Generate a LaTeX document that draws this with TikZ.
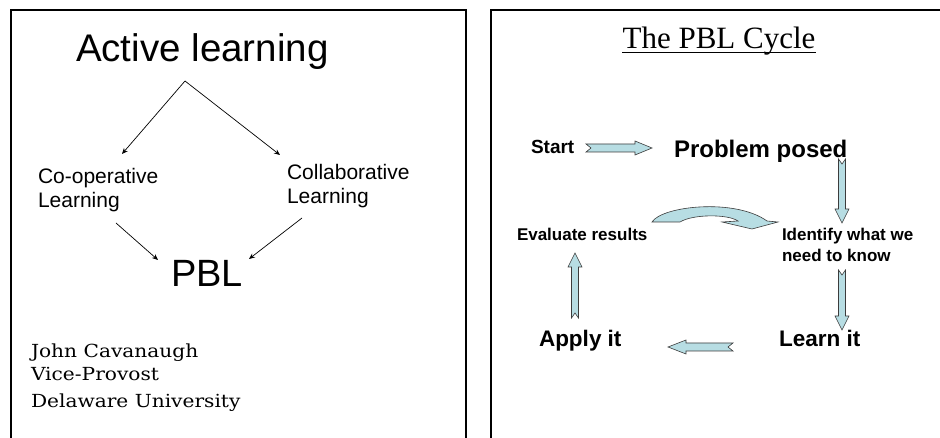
\documentclass[tikz,border=0pt]{standalone}
\usepackage{fontspec}
\setmainfont{Liberation Sans}
\newfontfamily\timesf{Liberation Serif}
\newfontfamily\djserif{DejaVu Serif}
\usetikzlibrary{arrows.meta}
\definecolor{arrfill}{RGB}{183,221,227}
\definecolor{arredge}{RGB}{60,60,60}
\tikzset{
  panel/.style={draw=black,line width=2pt},
  lbl/.style={anchor=base west,inner sep=0pt,outer sep=0pt},
  thinarr/.style={-{Stealth[length=6pt,width=5pt]},line width=0.7pt},
  blockarr/.style={fill=arrfill,draw=arredge,line width=0.6pt,line join=miter},
  fsz/.style={font=\fontsize{#1}{#1}\selectfont},
  bsz/.style={font=\fontsize{#1}{#1}\selectfont\bfseries},
}
% #1 start coordinate, #2 angle, #3 length, #4 shaft half width, #5 head half width, #6 head length
\newcommand\blockarrow[6]{%
  \draw[blockarr,shift={#1},rotate=#2]
    (0,#4) -- ({#3-#6},#4) -- ({#3-#6},#5) -- (#3,0) -- ({#3-#6},-#5)
    -- ({#3-#6},-#4) -- (0,-#4) -- (5,0) -- cycle;}
\begin{document}
\begin{tikzpicture}[x=1pt,y=-1pt]
\useasboundingbox (0,0) rectangle (940,438);
\clip (0,0) rectangle (940,438);
\fill[white] (0,0) rectangle (940,438);
% panels
\draw[panel] (11,10) rectangle (466,460);
\draw[panel] (491,10) rectangle (960,460);

% ---------- left panel ----------
\node[lbl,fsz=38.5] (act) at (76,62) {Active learning};
\node[lbl,fsz=21] (coop1) at (38,184) {Co-operative};
\node[lbl,fsz=21] (coop2) at (38,208) {Learning};
\node[lbl,fsz=21] (coll1) at (287,180) {Collaborative};
\node[lbl,fsz=21] (coll2) at (287,204) {Learning};
\node[lbl,fsz=38] (pbl) at (171,287) {PBL};
\node[lbl,font=\djserif\fontsize{18}{18}\selectfont,xscale=1.12] (jc) at (31,357) {John Cavanaugh};
\node[lbl,font=\djserif\fontsize{18}{18}\selectfont,xscale=1.12] (vp) at (31,381) {Vice-Provost};
\node[lbl,font=\djserif\fontsize{18}{18}\selectfont,xscale=1.12] (du) at (31,407) {Delaware University};

\coordinate (actS) at (185,81);
\coordinate (coopN) at (122,154);
\coordinate (collN) at (280,155);
\coordinate (coopS) at (116,223);
\coordinate (collS) at (302,218);
\coordinate (pblW) at (158,260);
\coordinate (pblE) at (249,259);
\draw[thinarr] (actS) -- (coopN);
\draw[thinarr] (actS) -- (collN);
\draw[thinarr] (coopS) -- (pblW);
\draw[thinarr] (collS) -- (pblE);

% ---------- right panel ----------
\node[anchor=base,inner sep=0pt,font=\timesf\fontsize{31}{31}\selectfont] (title) at (719,49) {The PBL Cycle};
\draw[line width=1.3pt] ([yshift=-3.5pt]title.base west) -- ([yshift=-3.5pt]title.base east);

\node[lbl,bsz=19] (start) at (531,154) {Start};
\node[lbl,bsz=24] (prob) at (674,158) {Problem posed};
\node[lbl,bsz=17] (eval) at (517,241) {Evaluate results};
\node[lbl,bsz=17] (ident1) at (782,241) {Identify what we};
\node[lbl,bsz=17] (ident2) at (782,262) {need to know};
\node[lbl,bsz=22.5] (learn) at (779,347) {Learn it};
\node[lbl,bsz=22.5] (apply) at (539,347) {Apply it};

% block arrows
\blockarrow{(586,148)}{0}{66}{4}{7}{17}
\blockarrow{(842,159)}{-90}{64}{3.5}{7}{14}
\blockarrow{(842,270)}{-90}{60}{3.5}{7}{14}
\blockarrow{(733,347)}{180}{65}{4}{7}{18}
\blockarrow{(575,318)}{90}{65}{3.5}{7}{14}

% curved arrow (evaluate -> identify)
\draw[blockarr] (652,222) .. controls (662,206) and (735,198) .. (767,221)
  -- (778,222) -- (752,229) -- (722,222) -- (738,221)
  .. controls (728,214) and (693,214) .. (680,222) -- cycle;
\end{tikzpicture}
\end{document}
